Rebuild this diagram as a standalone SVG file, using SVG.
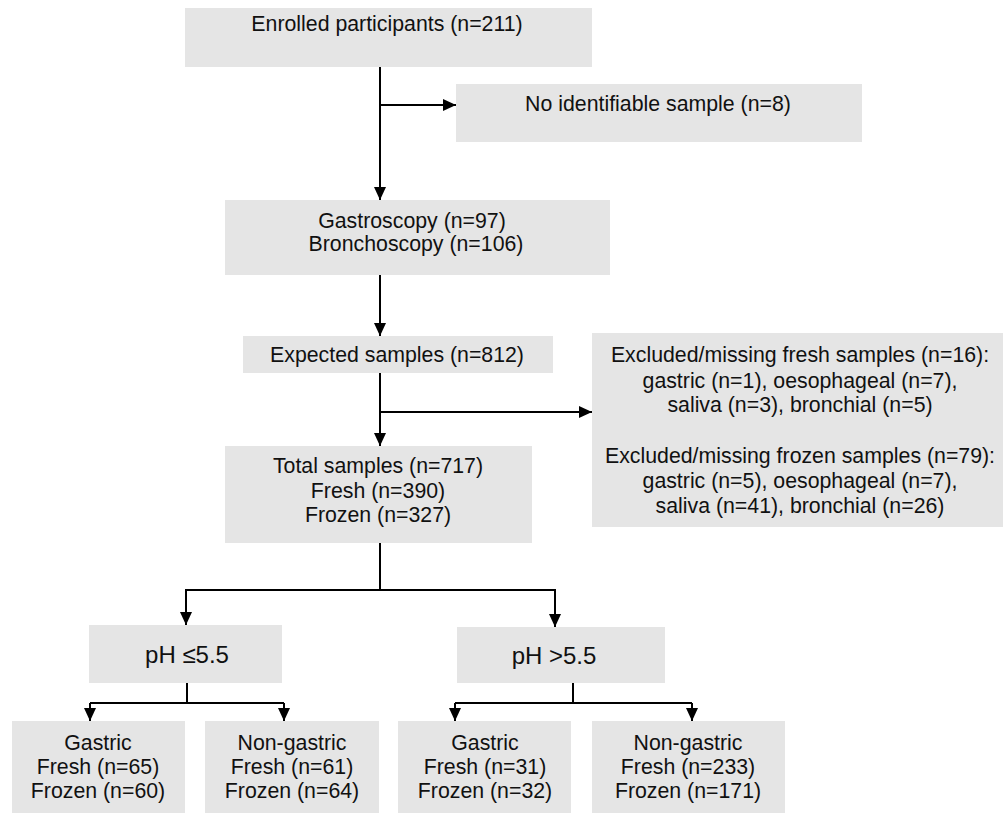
<svg xmlns="http://www.w3.org/2000/svg" width="1003" height="813" viewBox="0 0 1003 813">
<style>
.box{fill:#e5e5e5;stroke:none}
.t{font-family:"Liberation Sans",Arial,sans-serif;font-size:21.3px;fill:#111;text-anchor:middle}
.ph{font-size:24px}
.c{fill:none;stroke:#000;stroke-width:2}
</style>
<defs>
<marker id="ah" markerUnits="userSpaceOnUse" markerWidth="13" markerHeight="12" viewBox="0 0 13 12" refX="13" refY="6" orient="auto">
<path d="M0,0 L13,6 L0,12 Z" fill="#000"/>
</marker>
</defs>
<rect width="1003" height="813" fill="#fff"/>
<g id="enrolled"><rect class="box" x="185" y="8" width="407" height="59"/><text class="t" x="387" y="31">Enrolled participants (n=211)</text></g>
<g id="noid"><rect class="box" x="456" y="84" width="406" height="58"/><text class="t" x="658" y="111">No identifiable sample (n=8)</text></g>
<g id="scopy"><rect class="box" x="225" y="200" width="385" height="75"/><text class="t" x="412" y="228">Gastroscopy (n=97)</text><text class="t" x="416" y="251">Bronchoscopy (n=106)</text></g>
<g id="expected"><rect class="box" x="243" y="336" width="310" height="37"/><text class="t" x="397" y="362">Expected samples (n=812)</text></g>
<g id="excluded"><rect class="box" x="592" y="333" width="411" height="194"/>
<text class="t" x="800" y="362">Excluded/missing fresh samples (n=16):</text>
<text class="t" x="800" y="388">gastric (n=1), oesophageal (n=7),</text>
<text class="t" x="800" y="412">saliva (n=3), bronchial (n=5)</text>
<text class="t" x="800" y="463">Excluded/missing frozen samples (n=79):</text>
<text class="t" x="800" y="488">gastric (n=5), oesophageal (n=7),</text>
<text class="t" x="800" y="513">saliva (n=41), bronchial (n=26)</text></g>
<g id="total"><rect class="box" x="225" y="446" width="307" height="97"/><text class="t" x="378" y="473">Total samples (n=717)</text><text class="t" x="378" y="498">Fresh (n=390)</text><text class="t" x="378" y="522">Frozen (n=327)</text></g>
<g id="phlow"><rect class="box" x="89" y="625" width="193" height="58"/><text class="t ph" x="187" y="663">pH ≤5.5</text></g>
<g id="phhigh"><rect class="box" x="457" y="627" width="208" height="56"/><text class="t ph" x="554" y="664">pH &gt;5.5</text></g>
<g id="g1"><rect class="box" x="12" y="721" width="173" height="92"/><text class="t" x="98" y="750">Gastric</text><text class="t" x="98" y="774">Fresh (n=65)</text><text class="t" x="98" y="798">Frozen (n=60)</text></g>
<g id="g2"><rect class="box" x="205" y="721" width="174" height="92"/><text class="t" x="292" y="750">Non-gastric</text><text class="t" x="292" y="774">Fresh (n=61)</text><text class="t" x="292" y="798">Frozen (n=64)</text></g>
<g id="g3"><rect class="box" x="398" y="721" width="173" height="92"/><text class="t" x="485" y="750">Gastric</text><text class="t" x="485" y="774">Fresh (n=31)</text><text class="t" x="485" y="798">Frozen (n=32)</text></g>
<g id="g4"><rect class="box" x="592" y="721" width="193" height="92"/><text class="t" x="688" y="750">Non-gastric</text><text class="t" x="688" y="774">Fresh (n=233)</text><text class="t" x="688" y="798">Frozen (n=171)</text></g>
<g id="connectors">
<line class="c" x1="380" y1="67" x2="380" y2="200" marker-end="url(#ah)"/>
<line class="c" x1="380" y1="105" x2="456" y2="105" marker-end="url(#ah)"/>
<line class="c" x1="380" y1="275" x2="380" y2="336" marker-end="url(#ah)"/>
<line class="c" x1="380" y1="373" x2="380" y2="446" marker-end="url(#ah)"/>
<line class="c" x1="380" y1="412" x2="592" y2="412" marker-end="url(#ah)"/>
<polyline class="c" points="380,543 380,590"/>
<polyline class="c" points="186,591 186,590 555,590 555,591"/>
<line class="c" x1="186" y1="590" x2="186" y2="625" marker-end="url(#ah)"/>
<line class="c" x1="555" y1="590" x2="555" y2="627" marker-end="url(#ah)"/>
<polyline class="c" points="187,683 187,703"/>
<polyline class="c" points="90,703 284,703"/>
<line class="c" x1="90" y1="703" x2="90" y2="721" marker-end="url(#ah)"/>
<line class="c" x1="284" y1="703" x2="284" y2="721" marker-end="url(#ah)"/>
<polyline class="c" points="573,683 573,703"/>
<polyline class="c" points="455,703 692,703"/>
<line class="c" x1="455" y1="703" x2="455" y2="721" marker-end="url(#ah)"/>
<line class="c" x1="692" y1="703" x2="692" y2="721" marker-end="url(#ah)"/>
</g>
</svg>
